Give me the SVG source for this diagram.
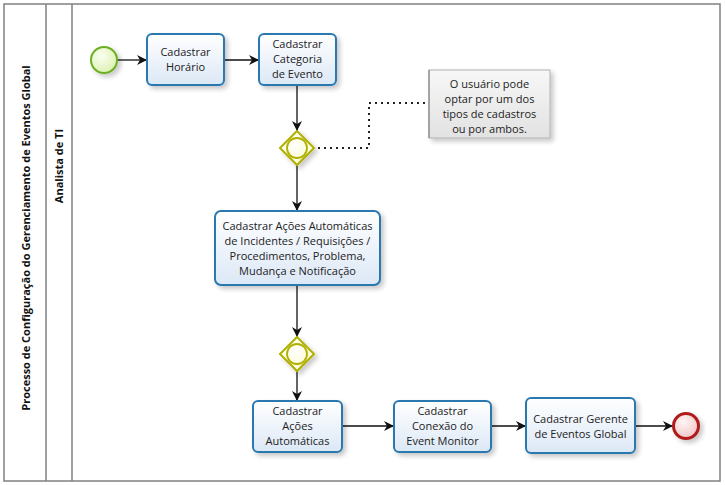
<svg xmlns="http://www.w3.org/2000/svg" width="725" height="485" viewBox="0 0 725 485">
<defs>
<linearGradient id="taskFill" x1="0" y1="0" x2="0" y2="1">
<stop offset="0" stop-color="#ffffff"/>
<stop offset="1" stop-color="#dce8f6"/>
</linearGradient>
<linearGradient id="noteFill" x1="0" y1="0" x2="0" y2="1">
<stop offset="0" stop-color="#f7f7f7"/>
<stop offset="1" stop-color="#e2e2e2"/>
</linearGradient>
<radialGradient id="startFill" cx="0.4" cy="0.35" r="0.7">
<stop offset="0" stop-color="#fbfff0"/>
<stop offset="1" stop-color="#dcf0b0"/>
</radialGradient>
<radialGradient id="endFill" cx="0.4" cy="0.35" r="0.7">
<stop offset="0" stop-color="#fff5f5"/>
<stop offset="1" stop-color="#f2c4c4"/>
</radialGradient>
<radialGradient id="gwFill" cx="0.4" cy="0.35" r="0.7">
<stop offset="0" stop-color="#ffffff"/>
<stop offset="1" stop-color="#fbfbd8"/>
</radialGradient>
<filter id="shadow" x="-20%" y="-20%" width="150%" height="150%">
<feGaussianBlur in="SourceAlpha" stdDeviation="2.5"/>
<feOffset dx="3" dy="3" result="b"/>
<feComponentTransfer><feFuncA type="linear" slope="0.22"/></feComponentTransfer>
<feMerge><feMergeNode/><feMergeNode in="SourceGraphic"/></feMerge>
</filter>
<marker id="arrow" viewBox="0 0 10 10" refX="10" refY="5" markerWidth="10" markerHeight="10" markerUnits="userSpaceOnUse" orient="auto">
<path d="M0,0 L10,5 L0,10 L3,5 Z" fill="#111"/>
</marker>
</defs>
<style>
.lane{fill:#fff;stroke:#808080;stroke-width:1.5}
.task{fill:url(#taskFill);stroke:#2a78b0;stroke-width:2;filter:url(#shadow)}
.txt{font-family:"Open Sans","DejaVu Sans",sans-serif;font-size:11px;fill:#222;text-anchor:middle}
.hdr{font-family:"Open Sans","DejaVu Sans",sans-serif;font-size:11px;font-weight:bold;fill:#111;text-anchor:middle}
.flow{fill:none;stroke:#111;stroke-width:1.3;marker-end:url(#arrow)}
.assoc{fill:none;stroke:#222;stroke-width:2;stroke-dasharray:2 4}
.gw{fill:url(#gwFill);stroke:#b0b000;stroke-width:2;filter:url(#shadow)}
</style>

<g id="pool">
<rect class="lane" x="4" y="4" width="716" height="477"/>
<line x1="46" y1="4" x2="46" y2="481" stroke="#808080" stroke-width="1.5"/>
<line x1="72" y1="4" x2="72" y2="481" stroke="#808080" stroke-width="1.5"/>
<text class="hdr" transform="translate(30,238) rotate(-90)">Processo de Configuração do Gerenciamento de Eventos Global</text>
<text class="hdr" transform="translate(63,166) rotate(-90)">Analista de TI</text>
</g>

<g id="connectors">
<line class="flow" x1="117" y1="60" x2="147" y2="60"/>
<line class="flow" x1="224" y1="60" x2="259" y2="60"/>
<line class="flow" x1="297" y1="85" x2="297" y2="131"/>
<line class="flow" x1="297" y1="165" x2="297" y2="211"/>
<line class="flow" x1="297" y1="285" x2="297" y2="337"/>
<line class="flow" x1="297" y1="371" x2="297" y2="401"/>
<line class="flow" x1="342" y1="426" x2="394" y2="426"/>
<line class="flow" x1="491" y1="426" x2="526" y2="426"/>
<line class="flow" x1="635" y1="426" x2="673" y2="426"/>
<polyline class="assoc" points="318,148 369,148 369,103 428,103"/>
</g>

<g id="start">
<circle cx="104" cy="60" r="13" fill="url(#startFill)" stroke="#6ab023" stroke-width="2" filter="url(#shadow)"/>
</g>

<g id="task-horario">
<rect class="task" x="147" y="34" width="77" height="51" rx="5"/>
<text class="txt" x="185.5" y="56">Cadastrar</text>
<text class="txt" x="185.5" y="71">Horário</text>
</g>

<g id="task-categoria">
<rect class="task" x="259" y="34" width="77" height="51" rx="5"/>
<text class="txt" x="297.5" y="48">Cadastrar</text>
<text class="txt" x="297.5" y="63">Categoria</text>
<text class="txt" x="297.5" y="78">de Evento</text>
</g>

<g id="gateway1">
<polygon class="gw" points="297,131 314,148 297,165 280,148"/>
<circle cx="297" cy="148" r="10" fill="url(#gwFill)" stroke="#b0b000" stroke-width="1.8"/>
</g>

<g id="annotation">
<rect x="429" y="70" width="121" height="68" fill="url(#noteFill)" stroke="#b0b0b0" stroke-width="1" filter="url(#shadow)"/>
<line x1="429" y1="70" x2="429" y2="138" stroke="#777" stroke-width="1"/>
<text class="txt" x="489.5" y="88">O usuário pode</text>
<text class="txt" x="489.5" y="103">optar por um dos</text>
<text class="txt" x="489.5" y="118">tipos de cadastros</text>
<text class="txt" x="489.5" y="133">ou por ambos.</text>
</g>

<g id="task-acoes-incidentes">
<rect class="task" x="215" y="211" width="165" height="74" rx="6"/>
<text class="txt" x="297.5" y="230">Cadastrar Ações Automáticas</text>
<text class="txt" x="297.5" y="245">de Incidentes / Requisições /</text>
<text class="txt" x="297.5" y="260">Procedimentos, Problema,</text>
<text class="txt" x="297.5" y="275">Mudança e Notificação</text>
</g>

<g id="gateway2">
<polygon class="gw" points="297,337 314,354 297,371 280,354"/>
<circle cx="297" cy="354" r="10" fill="url(#gwFill)" stroke="#b0b000" stroke-width="1.8"/>
</g>

<g id="task-acoes">
<rect class="task" x="253" y="401" width="89" height="51" rx="5"/>
<text class="txt" x="297.5" y="415">Cadastrar</text>
<text class="txt" x="297.5" y="430">Ações</text>
<text class="txt" x="297.5" y="445">Automáticas</text>
</g>

<g id="task-conexao">
<rect class="task" x="394" y="401" width="97" height="51" rx="5"/>
<text class="txt" x="442.5" y="415">Cadastrar</text>
<text class="txt" x="442.5" y="430">Conexão do</text>
<text class="txt" x="442.5" y="445">Event Monitor</text>
</g>

<g id="task-gerente">
<rect class="task" x="526" y="398" width="109" height="55" rx="5"/>
<text class="txt" x="580.5" y="423">Cadastrar Gerente</text>
<text class="txt" x="580.5" y="438">de Eventos Global</text>
</g>

<g id="end">
<circle cx="686" cy="426" r="12.5" fill="url(#endFill)" stroke="#b01c1c" stroke-width="3" filter="url(#shadow)"/>
</g>
</svg>
